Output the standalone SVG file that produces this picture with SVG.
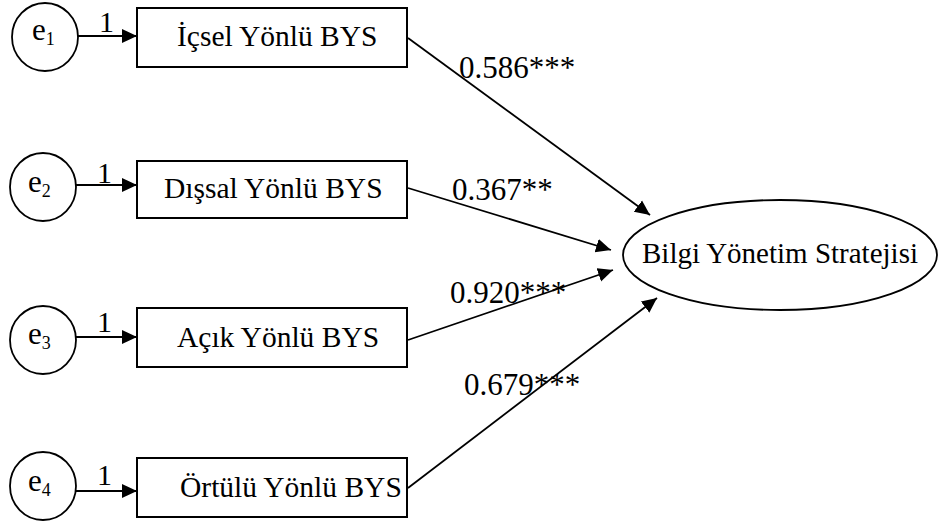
<svg xmlns="http://www.w3.org/2000/svg" width="940" height="527" viewBox="0 0 940 527">
<style>
text{font-family:"Liberation Serif","Times New Roman",serif;fill:#000}
.box{fill:#fff;stroke:#000;stroke-width:2}
.circ{fill:#fff;stroke:#000;stroke-width:1.8}
.lbl{font-size:29.5px}
.e{font-size:31px}
.sub{font-size:18px}
.one{font-size:30px}
.coef{font-size:31px}
.conn line{stroke:#000;stroke-width:1.8;marker-end:url(#ah)}
</style>
<defs>
<marker id="ah" markerWidth="16" markerHeight="16" refX="15" refY="7.5" orient="auto" markerUnits="userSpaceOnUse">
<path d="M0,0.5 L15,7.5 L0,14.5 Z" fill="#000"/>
</marker>
</defs>
<rect width="940" height="527" fill="#fff"/>
<g id="connectors" class="conn">
<line x1="78" y1="36" x2="137" y2="36"/>
<line x1="76" y1="185" x2="137" y2="185"/>
<line x1="76" y1="337" x2="137" y2="337"/>
<line x1="76" y1="491" x2="137" y2="491"/>
<line x1="408" y1="38" x2="650" y2="215"/>
<line x1="408" y1="188" x2="611" y2="250"/>
<line x1="408" y1="340" x2="613" y2="270"/>
<line x1="408" y1="488" x2="657" y2="298"/>
</g>
<g id="connector-labels">
<text class="one" x="99" y="32">1</text>
<text class="one" x="97" y="183">1</text>
<text class="one" x="97" y="332">1</text>
<text class="one" x="97" y="485">1</text>
<text class="coef" x="459" y="78">0.586***</text>
<text class="coef" x="452" y="200">0.367**</text>
<text class="coef" x="450" y="303">0.920***</text>
<text class="coef" x="464" y="395">0.679***</text>
</g>
<g id="e1"><ellipse class="circ" cx="45" cy="37" rx="33" ry="34"/><text class="e" x="32" y="40">e<tspan class="sub" dy="5">1</tspan></text></g>
<g id="e2"><ellipse class="circ" cx="43" cy="187" rx="33" ry="34"/><text class="e" x="28" y="192">e<tspan class="sub" dy="5">2</tspan></text></g>
<g id="e3"><ellipse class="circ" cx="43" cy="340" rx="33" ry="34"/><text class="e" x="28" y="344">e<tspan class="sub" dy="5">3</tspan></text></g>
<g id="e4"><ellipse class="circ" cx="43" cy="486" rx="33" ry="34"/><text class="e" x="28" y="491">e<tspan class="sub" dy="5">4</tspan></text></g>
<g id="icsel"><rect class="box" x="137" y="8" width="270" height="59"/><text class="lbl" x="177" y="46">İçsel Yönlü BYS</text></g>
<g id="dissal"><rect class="box" x="137" y="161" width="270" height="57"/><text class="lbl" x="164" y="198">Dışsal Yönlü BYS</text></g>
<g id="acik"><rect class="box" x="137" y="308" width="270" height="59"/><text class="lbl" x="177" y="347">Açık Yönlü BYS</text></g>
<g id="ortulu"><rect class="box" x="137" y="458" width="270" height="59"/><text class="lbl" x="180" y="497">Örtülü Yönlü BYS</text></g>
<g id="bys"><ellipse class="circ" cx="780" cy="255" rx="157" ry="55"/><text x="780" y="263" text-anchor="middle" style="font-size:29px">Bilgi Yönetim Stratejisi</text></g>
</svg>
